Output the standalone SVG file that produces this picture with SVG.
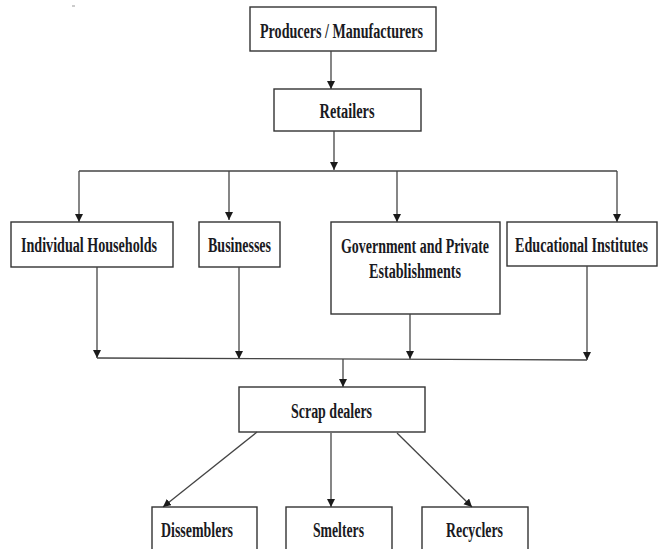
<svg xmlns="http://www.w3.org/2000/svg" width="659" height="549" viewBox="0 0 659 549">
<defs>
<marker id="ah" markerUnits="userSpaceOnUse" markerWidth="8" markerHeight="11" refX="8" refY="4" orient="auto">
<path d="M0,0 L8,4 L0,8 Z" fill="#1a1a1a"/>
</marker>
<style>
.box{fill:#fff;stroke:#333;stroke-width:1.4}
.t{font-family:"Liberation Serif","Times New Roman",serif;font-weight:bold;font-size:22px;fill:#1a1a22;text-anchor:middle}
.c{fill:none;stroke:#444;stroke-width:1.3}
.a{fill:none;stroke:#444;stroke-width:1.3;marker-end:url(#ah)}
</style>
</defs>
<rect width="659" height="549" fill="#fff"/>
<line x1="72" y1="6" x2="75" y2="6" stroke="#999" stroke-width="1"/>
<g id="producers"><rect class="box" x="250" y="7" width="186" height="44"/><text class="t" transform="translate(341.5,37.5) scale(0.64,1)" textLength="254.7" lengthAdjust="spacingAndGlyphs">Producers / Manufacturers</text></g>
<g id="retailers"><rect class="box" x="274" y="89" width="147" height="42"/><text class="t" transform="translate(347,118) scale(0.64,1)" textLength="85.9" lengthAdjust="spacingAndGlyphs">Retailers</text></g>
<g id="households"><rect class="box" x="11" y="222" width="162" height="45"/><text class="t" transform="translate(89,251.5) scale(0.64,1)" textLength="212.5" lengthAdjust="spacingAndGlyphs">Individual Households</text></g>
<g id="businesses"><rect class="box" x="199" y="222" width="81" height="45"/><text class="t" transform="translate(239.5,251.5) scale(0.64,1)" textLength="98.4" lengthAdjust="spacingAndGlyphs">Businesses</text></g>
<g id="government"><rect class="box" x="331" y="222" width="169" height="92"/><text class="t" transform="translate(415,252.5) scale(0.64,1)" textLength="231.3" lengthAdjust="spacingAndGlyphs">Government and Private</text><text class="t" transform="translate(415,278) scale(0.64,1)" textLength="143.8" lengthAdjust="spacingAndGlyphs">Establishments</text></g>
<g id="educational"><rect class="box" x="507" y="222" width="150" height="44"/><text class="t" transform="translate(581.5,252) scale(0.64,1)" textLength="207.8" lengthAdjust="spacingAndGlyphs">Educational Institutes</text></g>
<g id="scrap"><rect class="box" x="239" y="387" width="186" height="45"/><text class="t" transform="translate(331.5,417.5) scale(0.64,1)" textLength="126.6" lengthAdjust="spacingAndGlyphs">Scrap dealers</text></g>
<g id="dissemblers"><rect class="box" x="152" y="507" width="105" height="50"/><text class="t" transform="translate(197,537) scale(0.64,1)" textLength="112.5" lengthAdjust="spacingAndGlyphs">Dissemblers</text></g>
<g id="smelters"><rect class="box" x="286" y="507" width="106" height="50"/><text class="t" transform="translate(338.5,537) scale(0.64,1)" textLength="79.7" lengthAdjust="spacingAndGlyphs">Smelters</text></g>
<g id="recyclers"><rect class="box" x="422" y="507" width="106" height="50"/><text class="t" transform="translate(474.5,537) scale(0.64,1)" textLength="89.1" lengthAdjust="spacingAndGlyphs">Recyclers</text></g>
<g id="connectors">
<line class="a" x1="331" y1="51" x2="331" y2="89"/>
<line class="a" x1="334" y1="131" x2="334" y2="170"/>
<line class="c" x1="79" y1="171" x2="617" y2="171"/>
<line class="a" x1="79" y1="171" x2="79" y2="222"/>
<line class="a" x1="229" y1="171" x2="229" y2="220"/>
<line class="a" x1="397" y1="171" x2="397" y2="222"/>
<line class="a" x1="617" y1="171" x2="617" y2="222"/>
<line class="a" x1="97" y1="267" x2="97" y2="358"/>
<line class="a" x1="239" y1="267" x2="239" y2="359"/>
<line class="a" x1="410" y1="314" x2="410" y2="359"/>
<line class="a" x1="587" y1="266" x2="587" y2="360"/>
<line class="c" x1="97" y1="358" x2="587" y2="360"/>
<line class="a" x1="343" y1="359" x2="343" y2="387"/>
<line class="a" x1="257" y1="432" x2="163" y2="507"/>
<line class="a" x1="331" y1="433" x2="331" y2="507"/>
<line class="a" x1="397" y1="433" x2="472" y2="507"/>
</g>
</svg>
